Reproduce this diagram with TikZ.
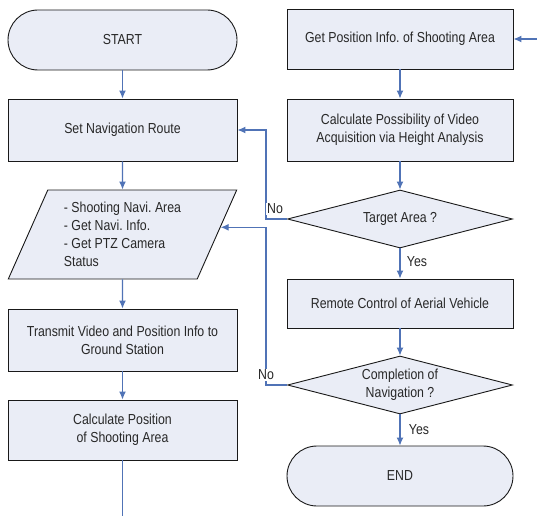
\documentclass[tikz,border=0pt]{standalone}
\usepackage{amsmath}
\usepackage{xcolor}
\usepackage{fontspec}
\setmainfont{Liberation Sans}[FakeStretch=0.85]
\usepackage{tikz}
\usetikzlibrary{shapes.geometric,arrows.meta,calc}

\begin{document}
\begin{tikzpicture}[x=1pt,y=1pt,yscale=-1,xscale=1,
  every node/.style={font={\fontsize{14.5}{18}\selectfont\frenchspacing}, text={rgb,255:red,40;green,40;blue,40}},
  box/.style={draw={rgb,255:red,25;green,25;blue,25}, line width=0.9pt, fill={rgb,255:red,234;green,237;blue,246}, align=center, inner sep=2pt},
  term/.style={box, rounded corners=30pt, minimum width=226, minimum height=60},
  proc/.style={box, minimum width=226, minimum height=62},
  dec/.style={box, diamond, aspect=3.9, inner sep=0pt, minimum width=225, minimum height=58},
  flow/.style={draw={rgb,255:red,80;green,115;blue,182}, line width=1.2pt, -{Latex[length=8pt,width=7pt]}},
  link/.style={draw={rgb,255:red,80;green,115;blue,182}, line width=1.2pt},
  lbl/.style={fill=white, inner sep=1pt}]
\useasboundingbox (0,0) rectangle (537,516);

%Left column
\node [term, minimum width=229] (start) at (122.5,40) {START};
\node [proc, minimum width=229] (setnav) at (122.5,130) {Set Navigation Route};
\node [box, trapezium, trapezium left angle=65, trapezium right angle=115, trapezium stretches=true, minimum width=229, minimum height=89, align=left] (navi) at (122.5,234.5) {- Shooting Navi. Area\\- Get Navi. Info.\\- Get PTZ Camera\\Status};
\node [proc, minimum width=229] (send) at (122.5,340) {Transmit Video and Position Info to\\Ground Station};
\node [proc, minimum width=229, minimum height=60] (calcpos) at (122.5,430) {Calculate Position\\of Shooting Area};
\coordinate (exit) at (122.5,516);

%Right column
\node [term, rounded corners=0pt, minimum height=60] (getpos) at (400,39) {Get Position Info. of Shooting Area};
\node [proc] (calcposs) at (400,130) {Calculate Possibility of Video\\Acquisition via Height Analysis};
\node [dec] (target) at (400,219) {Target Area ?};
\node [proc, minimum height=49] (remote) at (400,303.5) {Remote Control of Aerial Vehicle};
\node [dec] (complete) at (400,385) {Completion of\\Navigation ?};
\node [term] (end) at (400,476) {END};
\coordinate (feed) at (537,39);

%Straight Lines
\draw [flow] (start) -- (setnav);
\draw [flow] (setnav) -- (navi);
\draw [flow] (navi) -- (send);
\draw [flow] (send) -- (calcpos);
\draw [link] (calcpos) -- (exit);
\draw [flow] (feed) -- (getpos);
\draw [flow] (getpos) -- (calcposs);
\draw [flow] (calcposs) -- (target);
\draw [flow] (target) -- (remote);
\draw [flow] (remote) -- (complete);
\draw [flow] (complete) -- (end);
\draw [flow] (target.west) -- ++(-21,0) |- (setnav.east);
\draw [flow] (complete.west) -- ++(-21,0) |- ($(navi.top right corner)!0.42!(navi.bottom right corner)$);

% Text Node
\node [lbl] (no1) at (275,209) {No};
% Text Node
\node [lbl] (no2) at (266,375) {No};
% Text Node
\node [lbl] (yes1) at (417,262) {Yes};
% Text Node
\node [lbl] (yes2) at (419,430) {Yes};
\end{tikzpicture}
\end{document}
